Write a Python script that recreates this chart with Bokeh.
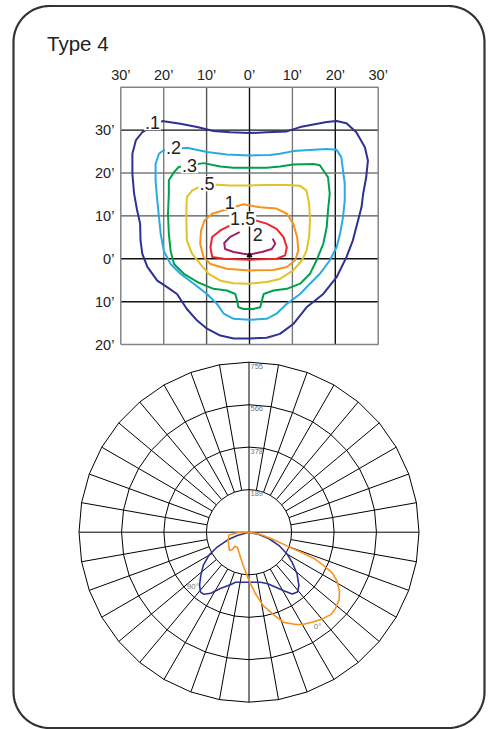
import numpy as np
from bokeh.plotting import figure
from bokeh.models import Range1d
from bokeh.core.properties import value
from bokeh.embed import file_html
from bokeh.resources import INLINE

# ---------------- data ----------------
TITLE = "Type 4"

# iso-footcandle chart (feet)
x_ticks = [-30, -20, -10, 0, 10, 20, 30]
x_tick_labels = ["30’", "20’", "10’", "0’", "10’", "20’", "30’"]
y_ticks = [30, 20, 10, 0, -10, -20]
y_tick_labels = ["30’", "20’", "10’", "0’", "10’", "20’"]
grid_y_max = 40

contour_labels = [".1", ".2", ".3", ".5", "1", "1.5", "2"]

c01_x = [-20.4, -16.1, -12.2, -8.4, -4.5, 0, 4.0, 8.7, 11.8, 14.9, 18.0, 20.3, 22.6, 24.9, 26.9, 27.6, 27.2, 26.5,
         26.1, 25.5, 24.9, 24.1, 22.6, 20.3, 17.2, 13.3, 10.2, 7.1, 4.0, 0, -3.7, -6.8, -9.9, -12.2, -14.6, -16.9,
         -19.2, -21.5, -23.8, -25.0, -25.4, -25.5, -26.2, -26.9, -27.3, -27.3, -26.5, -25.0]
c01_y = [32.1, 31.5, 30.7, 29.8, 29.5, 29.3, 29.5, 29.7, 30.7, 31.3, 31.9, 32.1, 31.6, 29.5, 26.0, 22.9, 19.0, 15.2,
         12.0, 9.7, 7.4, 4.3, 0.4, -4.3, -8.2, -11.3, -15.2, -17.5, -18.4, -18.6, -18.6, -17.9, -16.3, -14.4, -11.7,
         -8.2, -6.6, -5.1, -1.9, 1.2, 4.3, 8.2, 11.3, 15.2, 19.8, 24.5, 27.6, 29.5]

c02_x = [-14.6, -9.9, -5.3, 0, 4.8, 7.1, 10.2, 14.9, 18.0, 20.3, 21.4, 21.8, 22.2, 22.2, 21.8, 21.1, 20.3, 18.7,
         16.4, 14.1, 11.8, 8.7, 6.3, 4.0, 0, -3.7, -6.0, -7.6, -9.9, -13.0, -16.1, -18.4, -20.0, -20.7, -21.1,
         -21.5, -21.9, -21.9, -21.1, -20.0]
c02_y = [25.9, 24.9, 24.3, 24.1, 24.2, 24.5, 25.1, 25.4, 25.6, 25.4, 23.7, 20.6, 17.5, 13.6, 9.7, 5.8, 2.7, -0.4,
         -3.5, -5.8, -8.2, -10.5, -12.8, -14.0, -14.2, -14.0, -12.8, -10.5, -8.2, -5.8, -3.5, -1.2, 1.9, 5.8, 9.7,
         13.6, 18.3, 22.1, 24.5, 25.3]

c03_x = [-10.7, -6.8, -3.7, 0, 4.0, 7.1, 10.2, 14.9, 16.4, 18.3, 18.7, 18.3, 18.0, 17.2, 15.6, 14.1, 11.8, 8.7,
         5.6, 3.3, 2.9, 2.5, 0.9, -1.4, -2.6, -2.9, -3.3, -5.3, -8.4, -12.2, -15.3, -17.6, -18.4, -18.8, -19.0,
         -18.8, -18.8, -17.6, -16.5]
c03_y = [22.3, 21.5, 21.2, 21.2, 21.2, 21.5, 22.0, 22.1, 21.8, 19.0, 15.2, 11.3, 7.4, 3.5, -0.4, -3.5, -5.8, -7.0,
         -7.4, -8.2, -9.7, -11.3, -11.7, -11.7, -11.3, -9.7, -8.2, -7.4, -7.0, -5.4, -3.5, -1.2, 1.9, 5.8, 10.5,
         15.2, 18.3, 20.2, 21.4]

c05_x = [-8.4, -4.5, 0, 4.0, 8.7, 11.8, 13.3, 13.9, 14.1, 13.9, 13.3, 12.2, 10.2, 7.1, 4.0, 0, -3.7, -6.8, -9.5,
         -11.5, -13.4, -14.6, -14.7, -14.7, -14.6, -13.4, -11.8]
c05_y = [17.3, 17.1, 17.1, 17.2, 17.2, 17.0, 15.9, 12.8, 8.9, 5.1, 1.9, -0.4, -2.7, -4.7, -5.4, -5.8, -5.7, -5.1,
         -3.5, -1.2, 1.2, 4.3, 8.2, 12.0, 14.4, 15.9, 16.7]

c1_x = [-1.4, 2.5, 6.3, 8.7, 10.2, 11.1, 11.4, 10.6, 8.7, 5.6, 0, -5.3, -9.1, -10.7, -11.5, -11.3, -10.5, -8.7, -6.8]
c1_y = [12.7, 12.0, 11.7, 10.5, 8.2, 5.1, 1.9, -0.4, -1.9, -2.6, -2.7, -2.3, -1.2, 0.4, 3.5, 6.6, 8.9, 10.5, 11.1]

c15_x = [0.9, 4.0, 6.3, 7.9, 8.7, 8.3, 6.3, 0, -6.0, -8.7, -9.1, -8.7, -6.8, -4.5]
c15_y = [9.1, 8.2, 7.0, 5.1, 2.7, 0.8, 0, -0.2, 0, 0.4, 2.7, 5.1, 6.6, 7.8]

c2_x = [-2.3, -4.5, -5.9, -5.7, -3.7, -1.4, 0, 2.9, 5.2, 6.0, 5.4]
c2_y = [6.2, 5.1, 3.7, 2.3, 1.6, 1.2, 1.0, 1.6, 2.3, 3.5, 4.7]

luminaire_x = [0]
luminaire_y = [0.8]

# candela polar chart (angle from nadir in degrees, candela)
ring_values = [189, 378, 566, 755]
ring_labels = ["189", "378", "566", "755"]
plane_labels = ["90°", "0°"]

blue_gamma = [-80, -74, -70, -65, -60, -54, -48, -43, -39, -36, -32, -27, -19, -15, 0, 13, 20, 26, 31, 35, 39,
              43, 49, 55, 60, 66, 72, 77, 80]
blue_cd = [0, 54, 102, 156, 206, 251, 288, 322, 342, 341, 320, 281, 246, 230, 222, 228, 244, 272, 305, 335, 342,
           325, 283, 234, 196, 146, 94, 46, 0]

orange_gamma = [82, 79, 73, 70, 69, 68, 66, 64, 61, 57, 53, 48, 45, 40, 35, 30, 27, 21, 17, 11, 6, 0, -10, -24,
                -37, -45, -44, -47, -68, -82, -88, -90]
orange_cd = [0, 52, 116, 181, 245, 311, 364, 410, 447, 479, 501, 513, 516, 504, 488, 473, 460, 429, 386, 332, 275,
             214, 150, 105, 85, 88, 107, 119, 100, 90, 45, 0]

# ---------------- layout ----------------
W, H = 492, 729
OFF = 0
CX0, CY0, S = 249.0, 258.3, 4.29           # contour origin (page px) and px per foot
PX0, PY0, K = 248.5, 531.7, 170.0 / 755.0  # polar centre (page px) and px per candela
FONT = value("Liberation Sans")

p = figure(width=W, height=H, output_backend="svg", toolbar_location=None,
           x_range=Range1d(OFF, OFF + W), y_range=Range1d(OFF + H, OFF),
           x_axis_location=None, y_axis_location=None, min_border=0)
p.outline_line_color = None
p.grid.visible = False
p.background_fill_color = "white"
p.border_fill_color = "white"

p.extra_x_ranges = {
    "cx": Range1d((OFF - CX0) / S, (OFF + W - CX0) / S),
    "px": Range1d((OFF - PX0) / K, (OFF + W - PX0) / K),
}
p.extra_y_ranges = {
    "cy": Range1d((CY0 - OFF - H) / S, (CY0 - OFF) / S),
    "py": Range1d((PY0 - OFF - H) / K, (PY0 - OFF) / K),
}

# rounded frame (page px)
L, R, T, B, RAD = 13.0, 484.0, 5.5, 727.5, 36
def arc(cx, cy, a0, a1):
    t = np.deg2rad(np.linspace(a0, a1, 20))
    return list(cx + RAD * np.cos(t)), list(cy + RAD * np.sin(t))
fx, fy = [], []
for (cx, cy, a0, a1) in [(L + RAD, T + RAD, 180, 270), (R - RAD, T + RAD, 270, 360),
                         (R - RAD, B - RAD, 0, 90), (L + RAD, B - RAD, 90, 180)]:
    ax, ay = arc(cx, cy, a0, a1)
    fx += ax
    fy += ay
fx.append(fx[0]); fy.append(fy[0])
p.line(fx, fy, line_color="#333333", line_width=2.2)

p.text(x=[46.5], y=[43.0], text=[TITLE], text_font=FONT, text_font_size="20.5px",
       text_color="#222222", text_baseline="alphabetic", text_align="left")

# ---- contour chart ----
cr = dict(x_range_name="cx", y_range_name="cy")
gx0, gx1 = x_ticks[0], x_ticks[-1]
gy0 = y_ticks[-1]
inner_v = x_ticks[1:-1]
inner_h = y_ticks[:]
v_cols = {-20: "#7a7a7a", -10: "#555555", 0: "#111111", 10: "#7a7a7a", 20: "#111111"}
h_cols = {30: "#111111", 20: "#7a7a7a", 10: "#555555", 0: "#111111", -10: "#111111"}
for xv in inner_v:
    p.segment(x0=[xv], y0=[gy0], x1=[xv], y1=[grid_y_max], line_color=v_cols[xv], line_width=1.4, **cr)
for yv in inner_h[:-1]:
    p.segment(x0=[gx0], y0=[yv], x1=[gx1], y1=[yv], line_color=h_cols[yv], line_width=1.4, **cr)
p.line([gx0, gx1, gx1, gx0, gx0], [gy0, gy0, grid_y_max, grid_y_max, gy0],
       line_color="#858585", line_width=1.5, **cr)

p.text(x=x_ticks, y=[grid_y_max + 2.8] * len(x_ticks), text=x_tick_labels, text_font=FONT,
       text_font_size="14.5px", text_color="#222222", text_align="center", text_baseline="middle", **cr)
p.text(x=[gx0 - 1.5] * len(y_ticks), y=y_ticks, text=y_tick_labels, text_font=FONT,
       text_font_size="14.5px", text_color="#222222", text_align="right", text_baseline="middle", **cr)

contours = [(c01_x, c01_y, "#2e3192", True), (c02_x, c02_y, "#29abe2", True), (c03_x, c03_y, "#00a14b", True),
            (c05_x, c05_y, "#e2c327", True), (c1_x, c1_y, "#f7931e", True), (c15_x, c15_y, "#e8262b", True),
            (c2_x, c2_y, "#9e1f63", False)]
for xs, ys, col, closed in contours:
    xx, yy = list(xs), list(ys)
    if closed:
        xx.append(xs[0]); yy.append(ys[0])
    p.line(xx, yy, line_color=col, line_width=2.0, **cr)

p.scatter(luminaire_x, luminaire_y, marker="triangle", size=5, color="black", **cr)

lab_x = [-22.6, -17.7, -14.0, -9.9, -4.6, -1.6, 1.9]
lab_y = [31.7, 26.0, 21.7, 17.5, 13.2, 9.3, 5.6]
p.text(x=lab_x, y=lab_y, text=contour_labels, text_font=FONT, text_font_size="18px",
       text_color="#222222", text_align="center", text_baseline="middle",
       background_fill_color="white", padding=1, **cr)

# ---- polar chart ----
pr = dict(x_range_name="px", y_range_name="py")
ang = np.deg2rad(np.arange(0, 361, 10))
p.multi_line([list(r * np.sin(ang)) for r in ring_values], [list(r * np.cos(ang)) for r in ring_values],
             line_color="black", line_width=1, **pr)
sx, sy = [], []
rmin, rmax = ring_values[0], ring_values[-1]
for a in range(0, 360, 10):
    t = np.deg2rad(a)
    r0 = 0 if a % 90 == 0 else rmin
    sx.append([r0 * np.sin(t), rmax * np.sin(t)])
    sy.append([r0 * np.cos(t), rmax * np.cos(t)])
p.multi_line(sx, sy, line_color="black", line_width=1, **pr)

p.text(x=[0] * len(ring_values), y=ring_values, text=ring_labels, text_font=FONT, text_font_size="7.5px",
       text_color="#777777", text_align="left", text_baseline="top", x_offset=1.5, y_offset=1.5, **pr)

bg = np.deg2rad(blue_gamma)
p.line(list(np.array(blue_cd) * np.sin(bg)), list(-np.array(blue_cd) * np.cos(bg)),
       line_color="#2e3192", line_width=1.6, **pr)
og = np.deg2rad(orange_gamma)
p.line(list(np.array(orange_cd) * np.sin(og)), list(-np.array(orange_cd) * np.cos(og)),
       line_color="#f7931e", line_width=1.6, **pr)

pl_gamma = np.deg2rad([-46, 36])
pl_r = np.array([347, 518])
p.text(x=list(pl_r * np.sin(pl_gamma)), y=list(-pl_r * np.cos(pl_gamma)), text=plane_labels, text_font=FONT,
       text_font_size="8px", text_color="#777777", text_align="center", text_baseline="middle", **pr)

open("out.html", "w").write(file_html(p, INLINE))
